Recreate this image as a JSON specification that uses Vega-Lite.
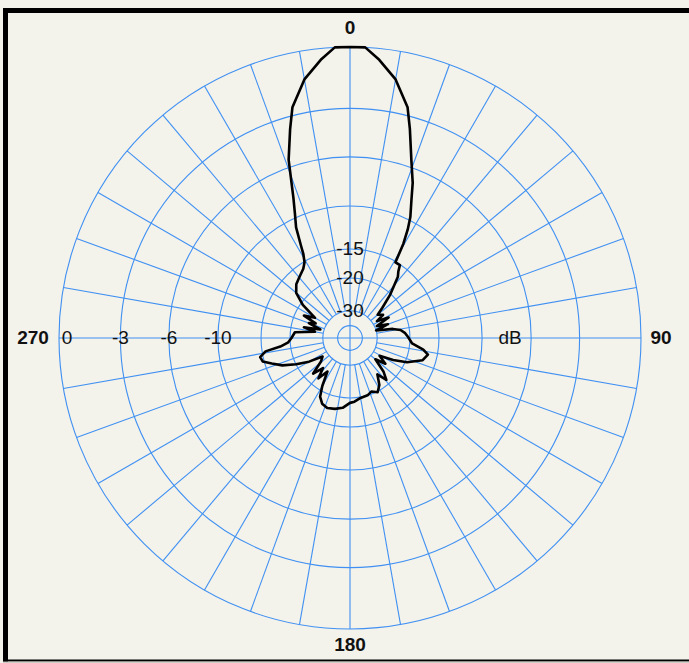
{
  "$schema": "https://vega.github.io/schema/vega-lite/v6.json",
  "width": 689,
  "height": 663,
  "autosize": {"type": "none"},
  "padding": 0,
  "background": "#f3f2eb",
  "config": {"view": {"stroke": null}, "text": {"font": "Liberation Sans"}},
  "datasets": {
    "pattern": [
      {"a": 0, "db": 0}, {"a": 3, "db": 0}, {"a": 6, "db": -0.5}, {"a": 10, "db": -1.3}, {"a": 14, "db": -2.55},
      {"a": 16, "db": -3.7}, {"a": 19, "db": -5.5}, {"a": 22, "db": -7.0}, {"a": 24, "db": -8.3}, {"a": 26.5, "db": -9.7},
      {"a": 28, "db": -10.9}, {"a": 29.5, "db": -12.5}, {"a": 31, "db": -15.1}, {"a": 34.4, "db": -15.1}, {"a": 36, "db": -16.0},
      {"a": 38, "db": -16.7}, {"a": 43, "db": -20.3}, {"a": 47, "db": -23.9}, {"a": 50, "db": -26.4}, {"a": 55, "db": -25},
      {"a": 58, "db": -28}, {"a": 62, "db": -24}, {"a": 66, "db": -29}, {"a": 70, "db": -25}, {"a": 74, "db": -30},
      {"a": 78, "db": -24}, {"a": 81, "db": -22}, {"a": 85, "db": -21}, {"a": 89, "db": -20.4}, {"a": 95, "db": -19.5},
      {"a": 99, "db": -17.3}, {"a": 102, "db": -16.4}, {"a": 107, "db": -17}, {"a": 113, "db": -19.6}, {"a": 117, "db": -22.7},
      {"a": 121, "db": -27}, {"a": 126, "db": -24}, {"a": 130, "db": -27.5}, {"a": 135, "db": -23}, {"a": 139, "db": -21},
      {"a": 143, "db": -23.5}, {"a": 148, "db": -21}, {"a": 153, "db": -19.8}, {"a": 158, "db": -20.5}, {"a": 163, "db": -20},
      {"a": 170, "db": -19.8}, {"a": 176, "db": -19.2}, {"a": 180, "db": -19}, {"a": 186, "db": -18}, {"a": 192, "db": -17.6},
      {"a": 198, "db": -17.4}, {"a": 203, "db": -17.8}, {"a": 207, "db": -18.8}, {"a": 210, "db": -21}, {"a": 214, "db": -25},
      {"a": 218, "db": -22}, {"a": 222, "db": -25}, {"a": 226, "db": -22}, {"a": 231, "db": -26}, {"a": 236, "db": -27.5},
      {"a": 240, "db": -23}, {"a": 244, "db": -20}, {"a": 248, "db": -17.5}, {"a": 252, "db": -16}, {"a": 255, "db": -14.8},
      {"a": 258, "db": -14.6}, {"a": 261, "db": -15.5}, {"a": 263, "db": -18}, {"a": 266, "db": -19.6}, {"a": 270, "db": -20.3},
      {"a": 276, "db": -21}, {"a": 280, "db": -26.6}, {"a": 283, "db": -23}, {"a": 286, "db": -28.4}, {"a": 290, "db": -24},
      {"a": 293, "db": -26}, {"a": 296, "db": -22}, {"a": 300, "db": -25}, {"a": 305, "db": -20.5}, {"a": 310, "db": -18},
      {"a": 315, "db": -17}, {"a": 320, "db": -16.5}, {"a": 326, "db": -15.8}, {"a": 329, "db": -15.1}, {"a": 331, "db": -14},
      {"a": 332, "db": -13}, {"a": 334, "db": -10.9}, {"a": 336, "db": -9.7}, {"a": 338, "db": -8.3}, {"a": 341, "db": -5.5},
      {"a": 344, "db": -3.7}, {"a": 346, "db": -2.55}, {"a": 350, "db": -1.3}, {"a": 354, "db": -0.5}, {"a": 357, "db": 0},
      {"a": 360, "db": 0}
    ],
    "spokes": [
      {"a": 0}, {"a": 10}, {"a": 20}, {"a": 30}, {"a": 40}, {"a": 50}, {"a": 60}, {"a": 70}, {"a": 80},
      {"a": 90}, {"a": 100}, {"a": 110}, {"a": 120}, {"a": 130}, {"a": 140}, {"a": 150}, {"a": 160}, {"a": 170},
      {"a": 180}, {"a": 190}, {"a": 200}, {"a": 210}, {"a": 220}, {"a": 230}, {"a": 240}, {"a": 250}, {"a": 260},
      {"a": 270}, {"a": 280}, {"a": 290}, {"a": 300}, {"a": 310}, {"a": 320}, {"a": 330}, {"a": 340}, {"a": 350}
    ],
    "rings": [{"db": 0}, {"db": -3}, {"db": -6}, {"db": -10}, {"db": -15}, {"db": -20}, {"db": -30}, {"db": -40}],
    "ringLabels": [
      {"label": "-3", "a": 270, "db": -3}, {"label": "-6", "a": 270, "db": -6}, {"label": "-10", "a": 270, "db": -10},
      {"label": "-15", "a": 0, "db": -15}, {"label": "-20", "a": 0, "db": -20}, {"label": "-30", "a": 0, "db": -30}
    ]
  },
  "layer": [
    {
      "data": {"name": "spokes"},
      "transform": [
        {"calculate": "datum.a % 90 == 0 ? 0 : exp(0.079 * -30)", "as": "r0"},
        {"calculate": "datum.r0 * sin(datum.a * PI / 180)", "as": "x1"},
        {"calculate": "datum.r0 * cos(datum.a * PI / 180)", "as": "y1"},
        {"calculate": "sin(datum.a * PI / 180)", "as": "x2"},
        {"calculate": "cos(datum.a * PI / 180)", "as": "y2"}
      ],
      "mark": {"type": "rule", "stroke": "#3f90f2", "strokeWidth": 1.1},
      "encoding": {
        "x": {"field": "x1", "type": "quantitative", "scale": {"domain": [-1.2027, 1.1649], "nice": false, "zero": false}, "axis": null},
        "y": {"field": "y1", "type": "quantitative", "scale": {"domain": [-1.1168, 1.1615], "nice": false, "zero": false}, "axis": null},
        "x2": {"field": "x2"},
        "y2": {"field": "y2"}
      }
    },
    {
      "data": {"name": "rings"},
      "transform": [{"calculate": "exp(0.079 * datum.db)", "as": "r"}],
      "mark": {"type": "arc", "filled": false, "fill": null, "stroke": "#3f90f2", "strokeWidth": 1.1, "theta": 0, "theta2": 6.2832},
      "encoding": {
        "x": {"datum": 0, "type": "quantitative"},
        "y": {"datum": 0, "type": "quantitative"},
        "radius": {"field": "r", "type": "quantitative", "stack": null, "scale": {"type": "linear", "domain": [0, 1], "range": [0, 291], "zero": true, "nice": false}, "legend": null}
      }
    },
    {
      "data": {"name": "pattern"},
      "transform": [
        {"calculate": "exp(0.079 * datum.db)", "as": "r"},
        {"calculate": "datum.r * sin(datum.a * PI / 180)", "as": "px"},
        {"calculate": "datum.r * cos(datum.a * PI / 180)", "as": "py"}
      ],
      "mark": {"type": "line", "stroke": "#000000", "strokeWidth": 2.6, "strokeJoin": "round"},
      "encoding": {
        "x": {"field": "px", "type": "quantitative"},
        "y": {"field": "py", "type": "quantitative"},
        "order": {"field": "a", "type": "quantitative"}
      }
    },
    {
      "data": {"name": "ringLabels"},
      "transform": [
        {"calculate": "exp(0.079 * datum.db)", "as": "r"},
        {"calculate": "datum.r * sin(datum.a * PI / 180)", "as": "lx"},
        {"calculate": "datum.r * cos(datum.a * PI / 180)", "as": "ly"}
      ],
      "mark": {"type": "text", "fontSize": 19, "color": "#111111", "align": "center", "baseline": "middle"},
      "encoding": {
        "x": {"field": "lx", "type": "quantitative"},
        "y": {"field": "ly", "type": "quantitative"},
        "text": {"field": "label"}
      }
    },
    {
      "data": {"values": [{}]},
      "mark": {"type": "text", "fontSize": 19, "color": "#111111", "align": "center", "baseline": "middle", "dx": 8, "text": "0"},
      "encoding": {"x": {"datum": -1.0}, "y": {"datum": 0}}
    },
    {
      "data": {"values": [{}]},
      "mark": {"type": "text", "fontSize": 19, "color": "#111111", "align": "center", "baseline": "middle", "text": "dB"},
      "encoding": {"x": {"datum": 0.55}, "y": {"datum": 0}}
    },
    {
      "data": {"values": [{"label": "0"}]},
      "mark": {"type": "text", "fontSize": 19, "fontWeight": "bold", "color": "#111111", "align": "center", "baseline": "middle"},
      "encoding": {"x": {"datum": 0}, "y": {"datum": 1.0653}, "text": {"field": "label"}}
    },
    {
      "data": {"values": [{"label": "180"}]},
      "mark": {"type": "text", "fontSize": 19, "fontWeight": "bold", "color": "#111111", "align": "center", "baseline": "middle"},
      "encoding": {"x": {"datum": 0}, "y": {"datum": -1.055}, "text": {"field": "label"}}
    },
    {
      "data": {"values": [{"label": "270"}]},
      "mark": {"type": "text", "fontSize": 19, "fontWeight": "bold", "color": "#111111", "align": "center", "baseline": "middle"},
      "encoding": {"x": {"datum": -1.0893}, "y": {"datum": 0}, "text": {"field": "label"}}
    },
    {
      "data": {"values": [{"label": "90"}]},
      "mark": {"type": "text", "fontSize": 19, "fontWeight": "bold", "color": "#111111", "align": "center", "baseline": "middle"},
      "encoding": {"x": {"datum": 1.0687}, "y": {"datum": 0}, "text": {"field": "label"}}
    },
    {
      "data": {"values": [{}]},
      "mark": {"type": "rule", "stroke": "#000000", "strokeWidth": 5},
      "encoding": {"x": {"datum": -1.1838}, "y": {"datum": 1.1254}, "y2": {"datum": -1.1134}}
    },
    {
      "data": {"values": [{}]},
      "mark": {"type": "rule", "stroke": "#000000", "strokeWidth": 5},
      "encoding": {"x": {"datum": -1.1924}, "x2": {"datum": 1.2}, "y": {"datum": 1.1254}}
    },
    {
      "data": {"values": [{}]},
      "mark": {"type": "rule", "stroke": "#000000", "strokeWidth": 2},
      "encoding": {"x": {"datum": -1.1924}, "x2": {"datum": 1.2}, "y": {"datum": -1.1082}}
    },
    {
      "data": {"values": [{}]},
      "mark": {"type": "rule", "stroke": "#a9a9a3", "strokeWidth": 1},
      "encoding": {"x": {"datum": -1.1924}, "x2": {"datum": 1.2}, "y": {"datum": -1.1134}}
    }
  ]
}
